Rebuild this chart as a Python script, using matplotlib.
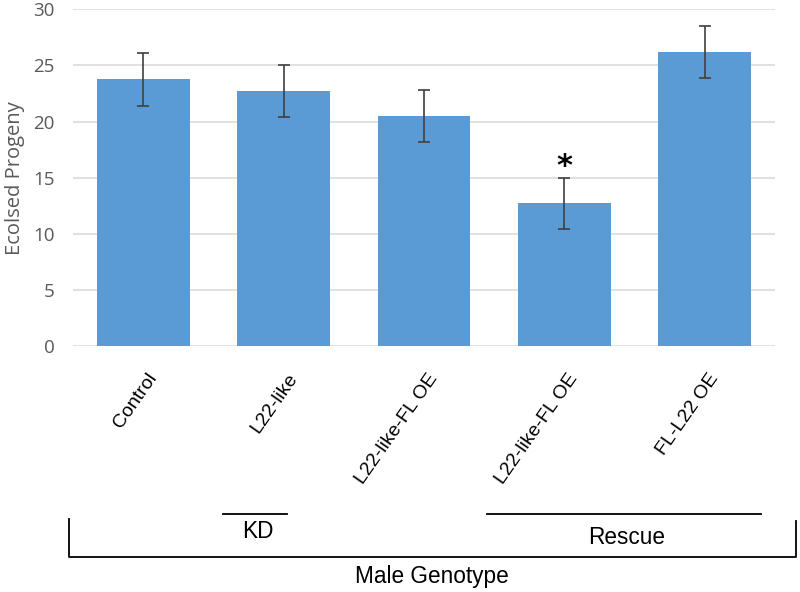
import matplotlib
matplotlib.use('Agg')
import matplotlib.pyplot as plt
import matplotlib.transforms as mtransforms
from matplotlib.lines import Line2D

genotypes = ['Control', 'L22-like', 'L22-like-FL OE', 'L22-like-FL OE', 'FL-L22 OE']
progeny = [23.75, 22.7, 20.5, 12.7, 26.2]
progeny_err = [2.35, 2.3, 2.3, 2.3, 2.3]
star_index = 3
y_ticks = [0, 5, 10, 15, 20, 25, 30]

W, H = 800, 592
fig = plt.figure(figsize=(W / 100, H / 100), dpi=100)
ax = fig.add_axes([73 / W, 1 - 346 / H, 702 / W, (346 - 9.3) / H])

x = range(len(genotypes))
ax.bar(x, progeny, width=0.66, color='#5b9bd5', zorder=2)
ax.errorbar(x, progeny, yerr=progeny_err, fmt='none', ecolor='#404040',
            elinewidth=1.2, capsize=4, capthick=1.2, zorder=3)

# significance mark above the rescue bar
ax.text(star_index, progeny[star_index] + progeny_err[star_index] + 0.2, '*',
        ha='center', va='baseline', fontsize=22, fontweight='bold',
        family='DejaVu Sans', color='black', zorder=4)

ax.set_xlim(-0.5, len(genotypes) - 0.5)
ax.set_ylim(0, 30)
ax.set_yticks(y_ticks)
ax.set_yticklabels([str(t) for t in y_ticks], family='Open Sans', fontsize=13.5, color='#595959')
ax.yaxis.grid(True, color='#d9d9d9', linewidth=1.1, zorder=0)
ax.set_axisbelow(True)
for s in ax.spines.values():
    s.set_visible(False)
ax.tick_params(axis='y', length=0, pad=13)

ax.set_xticks(list(x))
ax.set_xticklabels(genotypes, rotation=55, ha='right', va='center', rotation_mode='anchor',
                   family='Liberation Sans', fontsize=14, color='black')
ax.tick_params(axis='x', length=0, pad=21)
shift = mtransforms.ScaledTranslation(10 / 100, 0, fig.dpi_scale_trans)
for lab in ax.get_xticklabels():
    lab.set_transform(lab.get_transform() + shift)

ax.text(-0.0826, 0.5, 'Ecolsed Progeny', rotation=90, ha='center', va='center',
        transform=ax.transAxes, family='Open Sans', fontsize=14.5, color='#595959')


def fx(px):
    return px / W


def fy(py):
    return 1 - py / H


def fig_line(xs, ys):
    fig.add_artist(Line2D([fx(v) for v in xs], [fy(v) for v in ys],
                          transform=fig.transFigure, color='black', linewidth=1.3))


# group brackets under the labels
fig_line([223, 287], [514, 514])
fig_line([487, 761], [514, 514])
fig_line([69, 69, 796, 796], [519, 557, 557, 521])

fig.text(fx(258), fy(532), 'KD', ha='center', va='center', family='Liberation Sans', fontsize=16.3)
fig.text(fx(627), fy(537), 'Rescue', ha='center', va='center', family='Liberation Sans', fontsize=16.3)
fig.text(fx(432), fy(577), 'Male Genotype', ha='center', va='center', family='Liberation Sans', fontsize=16.3)

fig.savefig('out.png', dpi=100)
